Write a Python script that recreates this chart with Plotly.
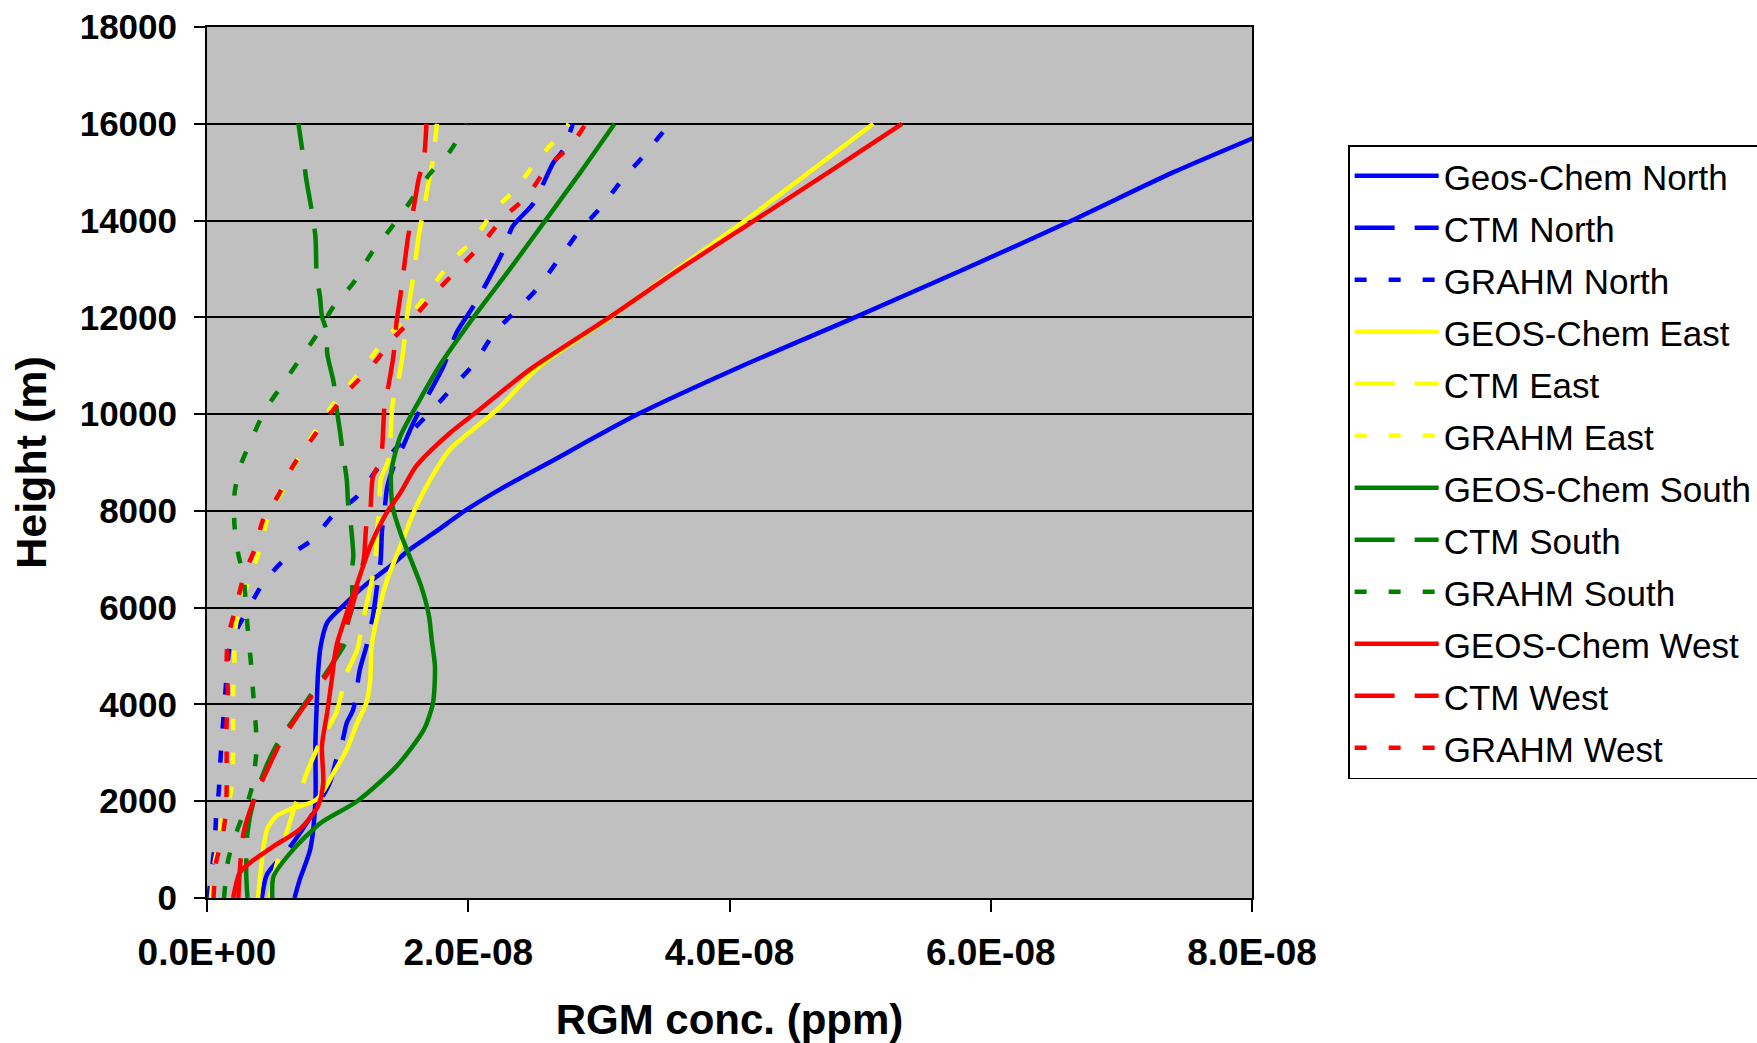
import plotly.graph_objects as go

# Concentrations are listed in units of 1e-8 ppm
UNIT = 1e-8

# ---------------- Geos-Chem ----------------
gc_north_h = [0, 380, 1000, 2000, 3200, 4000, 4650, 5200, 5690, 6030, 6440, 6850, 7200, 7550, 8030, 8440,
              9000, 10000, 11000, 12000, 13000, 14000, 15000, 16000]
gc_north_c = [0.67, 0.71, 0.79, 0.83, 0.83, 0.84, 0.85, 0.87, 0.92, 1.04, 1.20, 1.40, 1.55, 1.74, 1.99, 2.24,
              2.62, 3.30, 4.10, 4.96, 5.80, 6.62, 7.40, 8.27]

gc_east_h = [0, 520, 1000, 1420, 1690, 1830, 2035, 2590, 3070, 3620, 4030, 4510, 5200, 5890, 6580, 7270,
             7960, 8650, 9270, 10090, 11000, 12000, 13000, 14000, 15000, 16000]
gc_east_c = [0.39, 0.41, 0.43, 0.46, 0.53, 0.635, 0.84, 0.97, 1.07, 1.15, 1.22, 1.25, 1.26, 1.31, 1.38, 1.48,
             1.58, 1.71, 1.86, 2.22, 2.55, 3.09, 3.60, 4.12, 4.61, 5.10]

gc_south_h = [0, 450, 1000, 1550, 2000, 2720, 3480, 4030, 4790, 5340, 5820, 6440, 7000, 7550, 8100, 8790,
              9540, 10300, 11000, 12000, 13000, 14000, 15000, 16000]
gc_south_c = [0.50, 0.51, 0.66, 0.87, 1.15, 1.45, 1.66, 1.73, 1.745, 1.72, 1.70, 1.64, 1.56, 1.48, 1.42, 1.41,
              1.48, 1.63, 1.78, 2.04, 2.32, 2.59, 2.86, 3.12]

gc_west_h = [0, 520, 730, 1070, 1420, 1900, 2380, 3140, 3830, 4510, 5200, 5890, 6500, 7270, 7960, 8370,
             8920, 9610, 10100, 10920, 12000, 13000, 14000, 15000, 16000]
gc_west_c = [0.20, 0.25, 0.33, 0.51, 0.71, 0.85, 0.89, 0.88, 0.92, 0.955, 0.99, 1.07, 1.15, 1.25, 1.375, 1.48,
             1.60, 1.86, 2.09, 2.47, 3.08, 3.62, 4.19, 4.76, 5.32]

# ---------------- CTM ----------------
ctm_north_h = [0, 490, 1000, 1620, 2380, 2860, 3280, 3620, 3900, 4720, 5200, 5820, 6400, 7000, 7600, 8030,
               8500, 9000, 9330, 9820, 10230, 10990, 11680, 12230, 12610, 13330, 13880, 14360, 15190, 15470, 16000]
ctm_north_c = [0.42, 0.46, 0.62, 0.78, 0.94, 0.99, 1.04, 1.07, 1.12, 1.17, 1.22, 1.27, 1.30, 1.33, 1.34, 1.36,
               1.38, 1.44, 1.50, 1.58, 1.66, 1.81, 1.91, 2.04, 2.12, 2.26, 2.34, 2.50, 2.65, 2.73, 2.80]

ctm_east_h = [0, 660, 1350, 2035, 2760, 3070, 3480, 3830, 4650, 5130, 5820, 6400, 7000, 7550, 8030, 8650,
              9060, 10200, 10640, 11260, 12000, 12850, 13670, 14230, 14850, 15260, 16000]
ctm_east_c = [0.48, 0.53, 0.61, 0.69, 0.79, 0.84, 0.92, 0.99, 1.07, 1.15, 1.20, 1.25, 1.29, 1.30, 1.32, 1.33,
              1.39, 1.42, 1.46, 1.50, 1.53, 1.58, 1.62, 1.66, 1.70, 1.73, 1.76]

ctm_south_h = [0, 520, 1350, 2035, 2760, 3250, 3830, 4720, 5340, 5700, 6000, 6790, 7060, 7750, 8165, 8640,
               9200, 9610, 10160, 10650, 11260, 11680, 12020, 12430, 12850, 13670, 14230, 14850, 15260, 16000]
ctm_south_c = [0.31, 0.30, 0.31, 0.36, 0.46, 0.55, 0.70, 0.93, 1.07, 1.08, 1.11, 1.11, 1.12, 1.10, 1.08, 1.07,
               1.04, 1.02, 0.99, 0.97, 0.92, 0.92, 0.88, 0.865, 0.84, 0.83, 0.80, 0.76, 0.74, 0.70]

ctm_west_h = [0, 520, 1350, 2035, 2760, 3250, 3830, 4720, 5500, 6200, 7000, 7700, 8030, 8700, 9060, 10200,
              10600, 11260, 11880, 12430, 12850, 13670, 14230, 14850, 15260, 16000]
ctm_west_c = [0.24, 0.25, 0.28, 0.36, 0.48, 0.57, 0.71, 0.94, 1.05, 1.13, 1.20, 1.22, 1.25, 1.27, 1.33, 1.36,
              1.39, 1.43, 1.45, 1.48, 1.50, 1.54, 1.58, 1.62, 1.66, 1.68]

# ---------------- GRAHM ----------------
grahm_north_h = [0, 1150, 1730, 2200, 2700, 3170, 3690, 4240, 5270, 5710, 6100, 6550, 7060, 7410, 7890, 8300,
                 8850, 9540, 10160, 10580, 11060, 11680, 12120, 12570, 13190, 13780, 14290, 14880, 15330, 16000]
grahm_north_c = [0.01, 0.06, 0.07, 0.09, 0.10, 0.11, 0.125, 0.14, 0.18, 0.26, 0.34, 0.44, 0.62, 0.81, 0.96, 1.15,
                 1.30, 1.53, 1.75, 1.89, 2.05, 2.20, 2.36, 2.52, 2.69, 2.85, 3.02, 3.19, 3.34, 3.54]

grahm_east_h = [0, 760, 1150, 1700, 2150, 3000, 3650, 4200, 4820, 5400, 5900, 6720, 7240, 7820, 8370, 8890,
                9440, 10030, 10510, 10990, 11610, 12020, 12570, 13160, 13600, 14220, 14670, 15220, 15740, 16000]
grahm_east_c = [0.03, 0.06, 0.09, 0.12, 0.18, 0.20, 0.20, 0.20, 0.21, 0.21, 0.24, 0.34, 0.41, 0.46, 0.57, 0.66,
                0.78, 0.92, 1.06, 1.21, 1.38, 1.55, 1.71, 1.87, 2.04, 2.20, 2.37, 2.52, 2.69, 2.77]

grahm_south_h = [0, 750, 1170, 1680, 2240, 3100, 3690, 4180, 4750, 5320, 5930, 6650, 7100, 7720, 8340, 8890,
                 9470, 10060, 10580, 11090, 11640, 12230, 12710, 13330, 13850, 14290, 14980, 15430, 16000]
grahm_south_c = [0.13, 0.16, 0.20, 0.27, 0.34, 0.38, 0.37, 0.355, 0.34, 0.32, 0.30, 0.28, 0.24, 0.21, 0.21, 0.25,
                 0.34, 0.44, 0.57, 0.70, 0.84, 0.97, 1.12, 1.26, 1.41, 1.53, 1.71, 1.86, 1.99]

grahm_west_h = [0, 750, 1140, 1670, 2170, 3000, 3620, 4200, 4820, 5370, 5900, 6720, 7240, 7820, 8340, 8890,
                9440, 10030, 10510, 10990, 11570, 12020, 12570, 13050, 13500, 14090, 14500, 15120, 15530, 16000]
grahm_west_c = [0.05, 0.07, 0.11, 0.14, 0.15, 0.15, 0.15, 0.16, 0.15, 0.16, 0.21, 0.29, 0.37, 0.43, 0.55, 0.65,
                0.79, 0.95, 1.09, 1.26, 1.43, 1.59, 1.77, 1.94, 2.10, 2.28, 2.45, 2.61, 2.78, 2.90]

x_tick_vals = [0, 2e-8, 4e-8, 6e-8, 8e-8]
x_tick_text = ["0.0E+00", "2.0E-08", "4.0E-08", "6.0E-08", "8.0E-08"]
y_tick_vals = [0, 2000, 4000, 6000, 8000, 10000, 12000, 14000, 16000, 18000]

BLUE, YELLOW, GREEN, RED = "#0000FF", "#FFFF00", "#008000", "#FF0000"
SOLID, CTM_DASH, GRAHM_DASH = "solid", "40px,20px", "12px,22px"

series = [
    ("Geos-Chem North", gc_north_c, gc_north_h, BLUE, SOLID),
    ("CTM North", ctm_north_c, ctm_north_h, BLUE, CTM_DASH),
    ("GRAHM North", grahm_north_c, grahm_north_h, BLUE, GRAHM_DASH),
    ("GEOS-Chem East", gc_east_c, gc_east_h, YELLOW, SOLID),
    ("CTM East", ctm_east_c, ctm_east_h, YELLOW, CTM_DASH),
    ("GRAHM East", grahm_east_c, grahm_east_h, YELLOW, GRAHM_DASH),
    ("GEOS-Chem South", gc_south_c, gc_south_h, GREEN, SOLID),
    ("CTM South", ctm_south_c, ctm_south_h, GREEN, CTM_DASH),
    ("GRAHM South", grahm_south_c, grahm_south_h, GREEN, GRAHM_DASH),
    ("GEOS-Chem West", gc_west_c, gc_west_h, RED, SOLID),
    ("CTM West", ctm_west_c, ctm_west_h, RED, CTM_DASH),
    ("GRAHM West", grahm_west_c, grahm_west_h, RED, GRAHM_DASH),
]

FONT = "Liberation Sans, Arial, sans-serif"

fig = go.Figure()
for i, (name, conc, h, color, dash) in enumerate(series):
    fig.add_trace(go.Scatter(
        x=[c * UNIT for c in conc], y=h, mode="lines", name=name,
        legendgroup=f"g{i}",
        line=dict(color=color, width=4.5, dash=dash, shape="spline", smoothing=0.7),
    ))

fig.update_layout(
    width=1757, height=1043,
    margin=dict(l=207, r=505, t=27, b=145, autoexpand=False),
    paper_bgcolor="white", plot_bgcolor="#C0C0C0",
    font=dict(family=FONT, color="black"),
    legend=dict(
        x=1.092, y=0.8644, xanchor="left", yanchor="top",
        bgcolor="white", bordercolor="black", borderwidth=1.5,
        font=dict(family=FONT, size=35, color="black"),
        tracegroupgap=3.5, itemwidth=84,
    ),
    showlegend=True,
)
fig.update_xaxes(
    range=[0, 8e-8], tickvals=x_tick_vals, ticktext=x_tick_text,
    showgrid=False, zeroline=False, automargin=False,
    showline=True, linecolor="black", linewidth=2, mirror=True,
    ticks="outside", ticklen=12, tickwidth=2, tickcolor="black",
    tickfont=dict(family=FONT, size=37, color="black", weight="bold"),
    ticklabelstandoff=9,
    title=dict(text="<b>RGM conc. (ppm)</b>", font=dict(family=FONT, size=42, color="black"), standoff=32),
)
fig.update_yaxes(
    range=[0, 18000], tickvals=y_tick_vals, tickformat="d",
    showgrid=True, gridcolor="black", gridwidth=2, zeroline=False, automargin=False,
    showline=True, linecolor="black", linewidth=2, mirror=True,
    ticks="outside", ticklen=11, tickwidth=2, tickcolor="black",
    tickfont=dict(family=FONT, size=35, color="black", weight="bold"),
    ticklabelstandoff=10,
    title=dict(text="<b>Height (m)</b>", font=dict(family=FONT, size=43, color="black"), standoff=20),
)

fig.write_html("out.html")
